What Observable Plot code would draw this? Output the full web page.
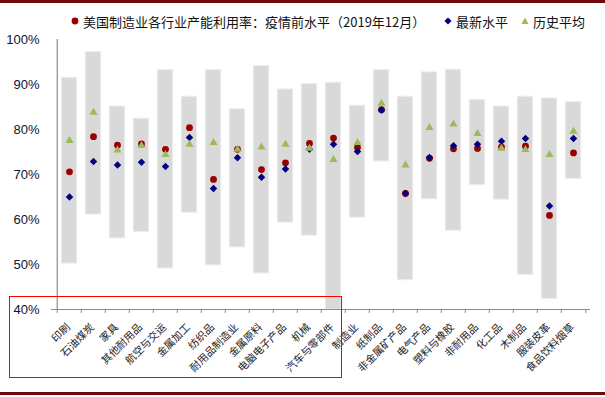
<!DOCTYPE html>
<html><head><meta charset="utf-8">
<script src="https://cdn.jsdelivr.net/npm/d3@7"></script>
<script src="https://cdn.jsdelivr.net/npm/@observablehq/plot@0.6"></script>
<style>
body{margin:0;background:#fff;}
#wrap{position:relative;width:605px;height:397px;overflow:hidden;font-family:"Noto Sans CJK SC","Noto Sans",sans-serif;}
.hline{position:absolute;left:0;width:605px;height:3px;background:#6e0a0a;}
#legend{position:absolute;left:0;top:11px;width:605px;height:20px;font-size:13px;color:#111;}
#legend .it{position:absolute;top:0;display:flex;align-items:center;height:20px;white-space:nowrap;}
#legend svg{margin-right:4px;}
#chart{position:absolute;left:0;top:0;}
#box{position:absolute;left:9px;top:296px;width:331px;height:80px;border:1px solid #ff0000;}
</style></head><body>
<div id="wrap">
  <div class="hline" style="top:0"></div>
  <div id="chart"></div>
  <div id="legend"></div>
  <div id="box"></div>
  <div class="hline" style="top:392px"></div>
</div>
<script>
const categories = ["印刷","石油煤炭","家具","其他耐用品","航空与交运","金属加工","纺织品","耐用品制造业","金属原料","电脑电子产品","机械","汽车与零部件","制造业","纸制品","非金属矿产品","电气产品","塑料与橡胶","非耐用品","化工品","木制品","服装皮革","食品饮料烟草"];
const rangeHigh = [91.5,97.2,85.1,82.4,93.2,87.3,93.2,84.5,94.1,88.9,90.1,90.4,85.3,93.2,87.3,92.7,93.3,86.6,85.1,87.3,86.9,86.1];
const rangeLow  = [50.2,61.1,55.8,57.2,49.1,61.5,49.8,53.8,48.0,59.3,56.4,40.0,60.4,72.9,46.5,64.5,57.5,67.6,64.4,47.7,42.3,69.0];
const preCovid  = [70.6,78.4,76.5,76.8,75.6,80.4,68.9,75.6,71.1,72.6,76.9,78.1,76.0,84.4,65.8,73.6,75.7,75.8,76.1,76.3,60.9,74.8];
const latest    = [65.0,72.9,72.1,72.7,71.8,78.2,66.9,73.7,69.4,71.2,75.6,76.7,75.1,84.3,65.8,73.8,76.4,76.7,77.4,78.0,63.0,78.0];
const histAvg   = [77.5,83.8,75.4,76.4,74.4,76.7,77.1,75.6,76.1,76.7,75.8,73.3,77.1,85.8,72.1,80.4,81.2,79.1,75.8,75.5,74.4,79.6];
const yTicks = [40,50,60,70,80,90,100];
const legendLabels = ["美国制造业各行业产能利用率：疫情前水平（2019年12月）","最新水平","历史平均"];

const RED = "#990000", BLUE = "#000080", GREEN = "#9bbb59";
const rows = categories.map((c,i)=>({cat:c, lo:rangeLow[i], hi:rangeHigh[i], pre:preCovid[i], now:latest[i], avg:histAvg[i]}));
const half = (605-51-15)/categories.length/2;

const chart = Plot.plot({
  width:605, height:397, marginTop:39, marginBottom:88, marginLeft:51, marginRight:15,
  style:{fontFamily:"'Liberation Sans', Arial, sans-serif", background:"transparent", overflow:"visible"},
  x:{domain:categories, padding:0, axis:null},
  y:{domain:[40,100], axis:null},
  marks:[
    Plot.barY(rows,{x:"cat", y1:"lo", y2:"hi", fill:"#d9d9d9", stroke:"#eeeeee", strokeWidth:1, insetLeft:4.25, insetRight:4.25}),
    Plot.ruleY([40],{stroke:"#8c8c8c", strokeWidth:1.2}),
    Plot.ruleX([categories[0]],{x:d=>d, dx:-half, stroke:"#8c8c8c", strokeWidth:1.2}),
    Plot.ruleX(categories,{x:d=>d, dx:-half, y1:40, y2:39.1, stroke:"#8c8c8c"}),
    Plot.ruleX([categories[categories.length-1]],{x:d=>d, dx:half, y1:40, y2:39.1, stroke:"#8c8c8c"}),
    Plot.text(yTicks,{y:d=>d, text:d=>d+"%", frameAnchor:"left", textAnchor:"end", dx:-12, fontSize:13, fill:"#111133"}),
    Plot.text(rows,{x:"cat", y:40, text:"cat", rotate:-45, textAnchor:"end", dx:-1, dy:16, fontSize:10.5, fill:"#222", fontFamily:"'Noto Sans CJK SC', sans-serif"}),
    Plot.dot(rows,{x:"cat", y:"pre", r:3.4, fill:RED}),
    Plot.dot(rows,{x:"cat", y:"now", symbol:"diamond2", r:3.4, fill:BLUE}),
    Plot.dot(rows,{x:"cat", y:"avg", symbol:"triangle", r:3, fill:GREEN})
  ]
});
document.getElementById("chart").appendChild(chart);

// legend
const lg = document.getElementById("legend");
const sym = [
  `<svg width="8" height="8" viewBox="-4 -4 8 8"><circle r="3.4" fill="${RED}"/></svg>`,
  `<svg width="8" height="8" viewBox="-4 -4 8 8"><path d="M0,-3.6L3.6,0L0,3.6L-3.6,0Z" fill="${BLUE}"/></svg>`,
  `<svg width="8" height="8" viewBox="-4 -4 8 8"><path d="M0,-3.5L3.5,3L-3.5,3Z" fill="${GREEN}"/></svg>`
];
const lefts = [71, 444, 521];
legendLabels.forEach((t,i)=>{
  const d = document.createElement("div");
  d.className = "it";
  d.style.left = lefts[i]+"px";
  d.innerHTML = sym[i] + `<span>${t}</span>`;
  lg.appendChild(d);
});
</script>
</body></html>
